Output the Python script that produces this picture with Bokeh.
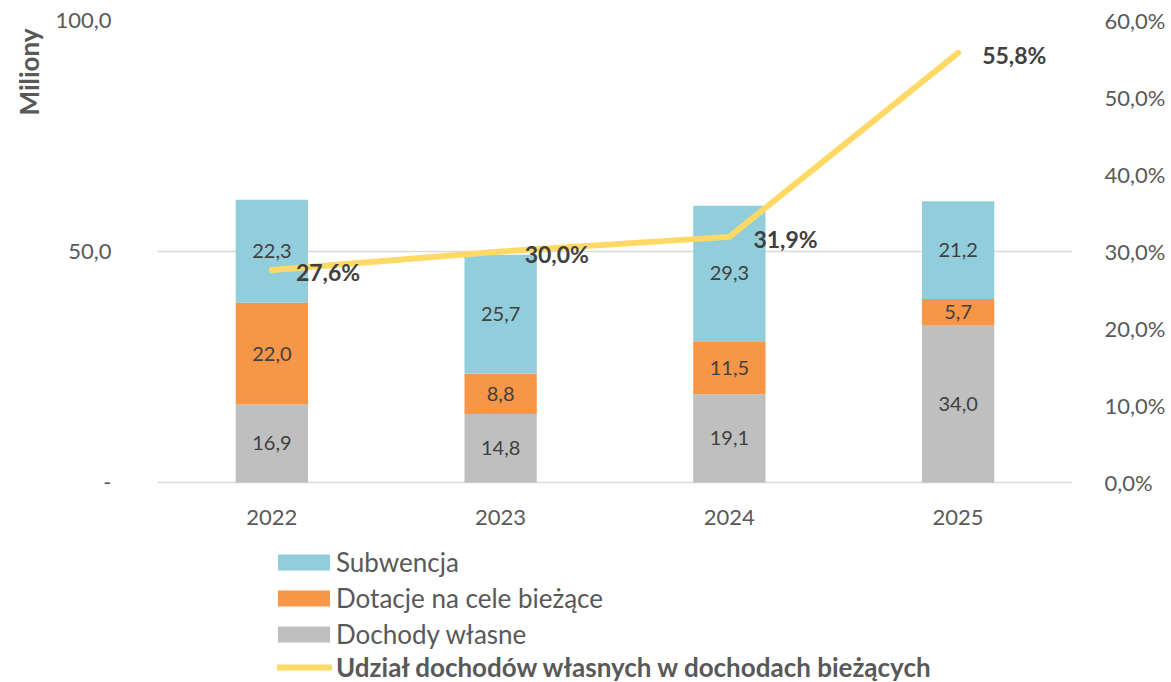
import math
from bokeh.plotting import figure
from bokeh.models import (ColumnDataSource, FactorRange, Range1d, LinearAxis, FixedTicker,
                          LabelSet, Legend, LegendItem, Title)
from bokeh.core.properties import value
from bokeh.embed import file_html
from bokeh.resources import INLINE

# ---- data ----
years = ["2022", "2023", "2024", "2025"]
dochody_wlasne = [16.9, 14.8, 19.1, 34.0]
dotacje = [22.0, 8.8, 11.5, 5.7]
subwencja = [22.3, 25.7, 29.3, 21.2]
udzial = [27.6, 30.0, 31.9, 55.8]
left_ticks = [0, 50, 100]
left_tick_labels = ["-", "50,0", "100,0"]
right_ticks = [0, 10, 20, 30, 40, 50, 60]
right_tick_labels = ["0,0%", "10,0%", "20,0%", "30,0%", "40,0%", "50,0%", "60,0%"]
series_names = ["Subwencja", "Dotacje na cele bieżące", "Dochody własne",
                "Udział dochodów własnych w dochodach bieżących"]

FONT = "Lato"
C_SUB = "#92CDDC"
C_DOT = "#F79646"
C_OWN = "#BFBFBF"
C_LINE = "#FFD966"
TXT = "#595959"
DARK = "#404040"

# layout geometry (pixels)
H = 682
TOP = 20
ZERO_Y = 482          # pixel row of value 0
PX_PER_UNIT = (ZERO_Y - TOP) / 100.0
Y_MIN = -(H - ZERO_Y) / PX_PER_UNIT
PCT_MIN = Y_MIN * 60 / 100.0
XLAB_Y = -(517 - ZERO_Y) / PX_PER_UNIT

def fmt(v):
    return f"{v:.1f}".replace(".", ",")

src = ColumnDataSource(dict(year=years, own=dochody_wlasne, dot=dotacje, sub=subwencja, pct=udzial,
                            pct_txt=[fmt(v) + "%" for v in udzial],
                            xlab_y=[XLAB_Y] * len(years)))

p = figure(x_range=FactorRange(*years, range_padding=0), y_range=Range1d(Y_MIN, 100),
           width=1168, height=H, output_backend="svg", toolbar_location=None,
           min_border_left=157, min_border_right=86, min_border_top=TOP, min_border_bottom=0)
p.outline_line_color = None
p.background_fill_color = "white"
p.border_fill_color = "white"
p.xgrid.visible = False
p.ygrid.ticker = FixedTicker(ticks=left_ticks)
p.ygrid.grid_line_color = "#D9D9D9"
p.ygrid.grid_line_width = 1.5
p.xaxis.visible = False

p.extra_y_ranges = {"pct": Range1d(PCT_MIN, 60)}

bars = p.vbar_stack(["own", "dot", "sub"], x="year", width=0.316, source=src,
                    fill_color=[C_OWN, C_DOT, C_SUB], line_color=None)
line = p.line(x="year", y="pct", y_range_name="pct", source=src,
              line_color=C_LINE, line_width=6, line_cap="round", line_join="round")

# axes
yax = p.yaxis[0]
yax.ticker = FixedTicker(ticks=left_ticks)
yax.major_label_overrides = {t: l for t, l in zip(left_ticks, left_tick_labels)}
yax.axis_line_color = None
yax.major_tick_line_color = None
yax.minor_tick_line_color = None
yax.major_label_standoff = 40
yax.major_label_text_font = FONT
yax.major_label_text_font_size = "22px"
yax.major_label_text_color = TXT

rax = LinearAxis(y_range_name="pct", ticker=FixedTicker(ticks=right_ticks))
rax.major_label_overrides = {t: l for t, l in zip(right_ticks, right_tick_labels)}
rax.axis_line_color = None
rax.major_tick_line_color = None
rax.minor_tick_line_color = None
rax.major_label_standoff = 26
rax.major_label_text_font = FONT
rax.major_label_text_font_size = "22px"
rax.major_label_text_color = TXT
p.add_layout(rax, "right")

# category labels (x axis)
p.add_layout(LabelSet(x="year", y="xlab_y", text="year", source=src, text_align="center",
                      text_baseline="middle", text_font=value(FONT), text_font_size="22px",
                      text_color=TXT))

# y axis title at top-left
ytitle = Title(text="Miliony", align="right", offset=8, standoff=16,
               text_font=FONT, text_font_size="26px", text_font_style="bold",
               text_color=TXT)
p.add_layout(ytitle, "left")

# bar segment labels
lab_x, lab_y, lab_t = [], [], []
for i, yr in enumerate(years):
    base = 0.0
    for v in (dochody_wlasne[i], dotacje[i], subwencja[i]):
        lab_x.append(yr)
        lab_y.append(base + v / 2)
        lab_t.append(fmt(v))
        base += v
lsrc = ColumnDataSource(dict(x=lab_x, y=lab_y, t=lab_t))
p.add_layout(LabelSet(x="x", y="y", text="t", source=lsrc, text_align="center",
                      text_baseline="middle", text_font=value(FONT), text_font_size="20px",
                      text_color=DARK))

# line labels
p.add_layout(LabelSet(x="year", y="pct", text="pct_txt", source=src, y_range_name="pct",
                      x_offset=24, y_offset=-2, text_align="left", text_baseline="middle",
                      text_font=value(FONT), text_font_size="23px", text_font_style="bold",
                      text_color=DARK))

# legends (inside the extended frame, below the bars)
leg1 = Legend(items=[LegendItem(label=series_names[0], renderers=[bars[2]]),
                     LegendItem(label=series_names[1], renderers=[bars[1]]),
                     LegendItem(label=series_names[2], renderers=[bars[0]])],
              location=(114, 32))
leg2 = Legend(items=[LegendItem(label=series_names[3], renderers=[line])],
              location=(120, -1))
for lg, style, gw, gh, so in ((leg1, "normal", 65, 20, 0), (leg2, "bold", 55, 16, 4)):
    lg.label_text_font = FONT
    lg.label_text_font_size = "26px"
    lg.label_text_font_style = style
    lg.label_text_color = TXT
    lg.glyph_width = gw
    lg.glyph_height = gh
    lg.label_height = 20
    lg.label_standoff = so
    lg.spacing = 4
    lg.padding = 0
    lg.margin = 0
    lg.border_line_color = None
    lg.background_fill_alpha = 0
    p.add_layout(lg, "center")

open("out.html", "w").write(file_html(p, INLINE))
